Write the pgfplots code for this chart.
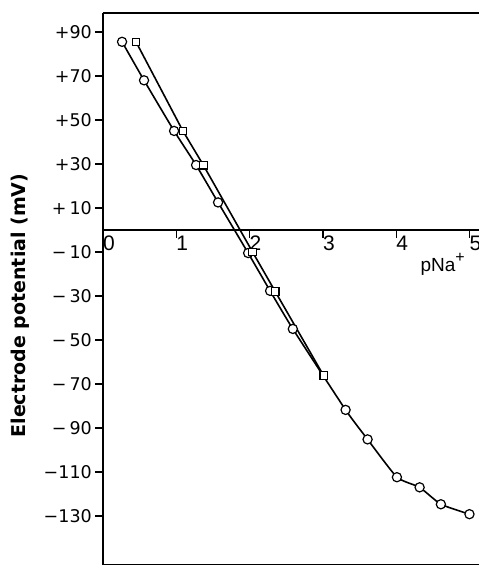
\documentclass[border=0pt]{standalone}
\usepackage{fontspec}
\setmainfont{Liberation Sans}
\newfontfamily\dejavu{DejaVu Sans}
\usepackage{pgfplots}
\pgfplotsset{compat=1.18}
\begin{document}
\begin{tikzpicture}
\begin{axis}[
  scale only axis, width=376pt, height=552pt,
  xmin=0, xmax=5.13, ymin=-152.3, ymax=98.6,
  axis x line=middle, axis y line=left,
  axis line style={-, line width=1.5pt},
  hide obscured x ticks=false,
  clip=false,
  xtick={0,1,2,3,4,5},
  xticklabels={0,1,2,3,4,5},
  ytick={90,70,50,30,10,-10,-30,-50,-70,-90,-110,-130},
  yticklabels={+90,+70,+50,+30,+\,10,−\,10,−\,30,−\,50,−\,70,−\,90,−110,−130},
  major tick length=8pt,
  tick align=outside,
  tick style={line width=1.3pt, black},
  yticklabel style={font=\dejavu\fontsize{17.5}{19}\selectfont, anchor=east, inner sep=0pt, xshift=-3pt},
  xticklabel style={font=\fontsize{21}{23}\selectfont, anchor=north, inner sep=0pt, xshift=6pt, yshift=2pt},
]
\addplot[line width=1.6pt, smooth, tension=0.3, mark=*, mark size=4.6pt,
  mark options={fill=white, line width=1.2pt, solid}] coordinates {
  (0.26,85.5) (0.56,68) (0.97,45) (1.27,29.5) (1.57,12.5) (1.98,-10.5)
  (2.28,-27.7) (2.59,-45) (3.31,-81.8) (3.61,-95.2) (4.01,-112.4)
  (4.32,-117) (4.61,-124.7) (5.00,-129.2)
};
\addplot[line width=1.6pt, mark=square*, mark size=3.7pt,
  mark options={fill=white, line width=1.2pt, solid}] coordinates {
  (0.45,85.5) (1.09,45) (1.37,29.4) (2.04,-10) (2.35,-28) (3.01,-66.2)
};
\draw[line width=1.5pt] (rel axis cs:0,1) -- (rel axis cs:1,1);
\draw[line width=1pt] (rel axis cs:0,0) -- (rel axis cs:1,0);
\node[anchor=base west, font=\fontsize{19}{21}\selectfont, inner sep=0pt] at (axis cs:4.33,-19) {pNa\raisebox{9pt}{\fontsize{16}{16}\selectfont +}};
\node[rotate=90, font=\dejavu\bfseries\fontsize{19}{21}\selectfont, inner sep=0pt] at ([xshift=-83pt]rel axis cs:0,0.47) {Electrode potential (mV)};
\coordinate (BL) at (rel axis cs:0,0);
\coordinate (TR) at (rel axis cs:1,1);
\end{axis}
\pgfresetboundingbox
\path[use as bounding box] ([xshift=-103pt,yshift=-1pt]BL) rectangle ([yshift=13pt]TR);
\end{tikzpicture}
\end{document}
